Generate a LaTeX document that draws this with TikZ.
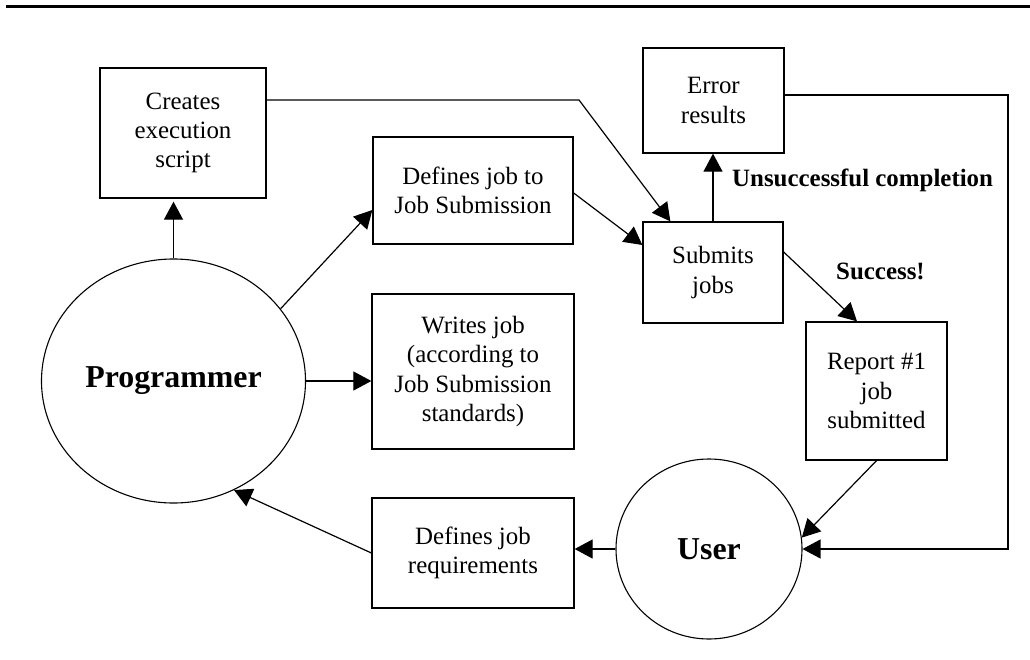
\documentclass[tikz,border=0pt]{standalone}
\usepackage{fontspec}
\setmainfont{Liberation Serif}
\usetikzlibrary{arrows.meta,shapes.geometric}
\begin{document}
\begin{tikzpicture}[x=1bp,y=-1bp,
  box/.style={draw, line width=1.3bp, align=center, inner sep=0pt,
    font=\fontsize{25}{29.5}\selectfont},
  actor/.style={draw, ellipse, line width=1.1bp, inner sep=0pt,
    font=\bfseries\fontsize{32}{36}\selectfont},
  flow/.style={line width=1.2bp, -{Triangle[length=18bp,width=19bp]}},
  tag/.style={font=\bfseries\fontsize{25}{30}\selectfont, inner sep=0pt, anchor=west}]

\useasboundingbox (0,0) rectangle (1030,660);

% header rule
\draw[line width=2.6bp] (6,6.7) -- (1030,6.7);

% actors
\node[actor, minimum width=264bp, minimum height=244bp] (prog) at (173.5,381) {Programmer};
\node[actor, minimum width=186bp, minimum height=180bp] (user) at (709,549) {User};

% process boxes
\node[box, minimum width=166bp, minimum height=130bp] (cre) at (183,133) {Creates\\execution\\script};
\node[box, minimum width=200bp, minimum height=107bp] (defjs) at (473,190.5) {Defines job to\\Job Submission};
\node[box, minimum width=141bp, minimum height=105bp] (err) at (713.5,100.5) {Error\\results};
\node[box, minimum width=140bp, minimum height=101bp] (sub) at (713,272.5) {Submits\\jobs};
\node[box, minimum width=141bp, minimum height=138bp] (rep) at (876.5,391) {Report \#1\\job\\submitted};
\node[box, minimum width=202bp, minimum height=155bp] (writes) at (473,371.5) {Writes job\\(according to\\Job Submission\\standards)};
\node[box, minimum width=202bp, minimum height=110bp] (defreq) at (473,553) {Defines job\\requirements};

% outcome labels
\node[tag] (fail) at (732,180) {Unsuccessful completion};
\node[tag] (ok) at (836,271) {Success!};

% bend points
\coordinate (bend) at (579,100);
\coordinate (loop) at (1008,549);

% connectors
\draw[flow] (prog.north) -- ([yshift=-3bp]prog.north |- cre.south);
\draw[flow] (prog.34) -- ([yshift=-19.5bp]defjs.west);
\draw[flow] (prog.east) -- (prog.east -| writes.west);
\draw[flow] (defreq.west) -- (prog.-61);
\draw[flow] (user.west) -- (user.west -| defreq.east);
\draw[flow] ([yshift=33bp]cre.east) -- (bend) -- ([xshift=28bp]sub.north west);
\draw[flow] ([yshift=-2.5bp]defjs.east) -- ([yshift=27.5bp]sub.west);
\draw[flow] (sub.north) -- (sub.north |- err.south);
\draw[flow] ([yshift=20.5bp]sub.east) -- ([xshift=-19.5bp]rep.north);
\draw[flow] (rep.south) -- (user.7);
\draw[flow] ([yshift=5.5bp]err.east) -| (loop) -- (user.east);

\end{tikzpicture}
\end{document}
